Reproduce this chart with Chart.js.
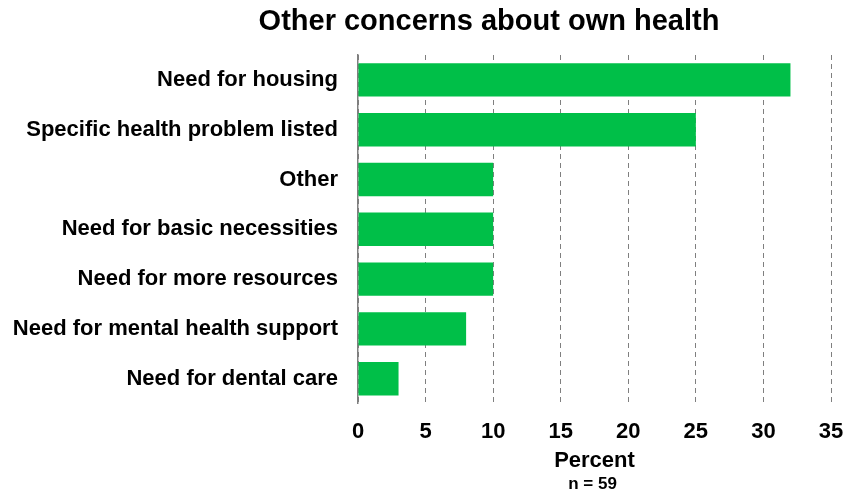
<!DOCTYPE html>
<html>
<head>
<meta charset="utf-8">
<script src="https://cdn.jsdelivr.net/npm/chart.js@4/dist/chart.umd.min.js"></script>
<style>
  html, body { margin: 0; padding: 0; background: #fff; }
  #wrap { width: 843px; height: 493px; position: relative; }
</style>
</head>
<body>
<div id="wrap"><canvas id="c" width="843" height="493"></canvas></div>
<script>
const chartTitle = 'Other concerns about own health';
const categories = [
  'Need for housing',
  'Specific health problem listed',
  'Other',
  'Need for basic necessities',
  'Need for more resources',
  'Need for mental health support',
  'Need for dental care'
];
const percentValues = [32, 25, 10, 10, 10, 8, 3];
const xTickValues = [0, 5, 10, 15, 20, 25, 30, 35];
const xAxisTitle = 'Percent';
const sampleNote = 'n = 59';

const FONT = '"Liberation Sans", Arial, sans-serif';
const BAR_GREEN = '#00BF48';

// Heading, axis title and sample-size note drawn as plain canvas text
const textPlugin = {
  id: 'extraText',
  afterDraw(chart) {
    const ctx = chart.ctx;
    ctx.save();
    ctx.fillStyle = '#000';
    ctx.textAlign = 'center';
    ctx.textBaseline = 'middle';
    ctx.font = 'bold 29px ' + FONT;
    ctx.fillText(chartTitle, 489, 22);
    const xs = chart.scales.x;
    const cx = (xs.left + xs.right) / 2;
    ctx.font = 'bold 22px ' + FONT;
    ctx.fillText(xAxisTitle, cx, 461);
    ctx.font = 'bold 17px ' + FONT;
    ctx.fillText(sampleNote, cx - 2, 484);
    ctx.restore();
  }
};

new Chart(document.getElementById('c'), {
  type: 'bar',
  data: {
    labels: categories,
    datasets: [{
      data: percentValues,
      backgroundColor: BAR_GREEN,
      borderWidth: 0,
      barPercentage: 0.67,
      categoryPercentage: 1.0
    }]
  },
  options: {
    indexAxis: 'y',
    responsive: false,
    animation: false,
    layout: { padding: { top: 55, right: 12, bottom: 33, left: 0 } },
    plugins: {
      legend: { display: false },
      tooltip: { enabled: false },
      title: { display: false }
    },
    scales: {
      x: {
        min: 0,
        max: 35,
        afterBuildTicks(axis) { axis.ticks = xTickValues.map(v => ({ value: v })); },
        afterFit(axis) { axis.paddingLeft = 0; axis.paddingRight = 0; },
        border: { display: false, dash: [5, 4] },
        grid: { color: '#7f7f7f', lineWidth: 1, drawTicks: false },
        ticks: { color: '#000', padding: 15, maxRotation: 0, font: { family: FONT, size: 22, weight: 'bold' } }
      },
      y: {
        afterFit(axis) { axis.width = 358; axis.paddingTop = 0; axis.paddingBottom = 0; },
        border: { display: true, color: '#7f7f7f', width: 1.5 },
        grid: { display: false, drawTicks: false },
        ticks: { color: '#000', padding: 20, font: { family: FONT, size: 22, weight: 'bold' } }
      }
    }
  },
  plugins: [textPlugin]
});
</script>
</body>
</html>
